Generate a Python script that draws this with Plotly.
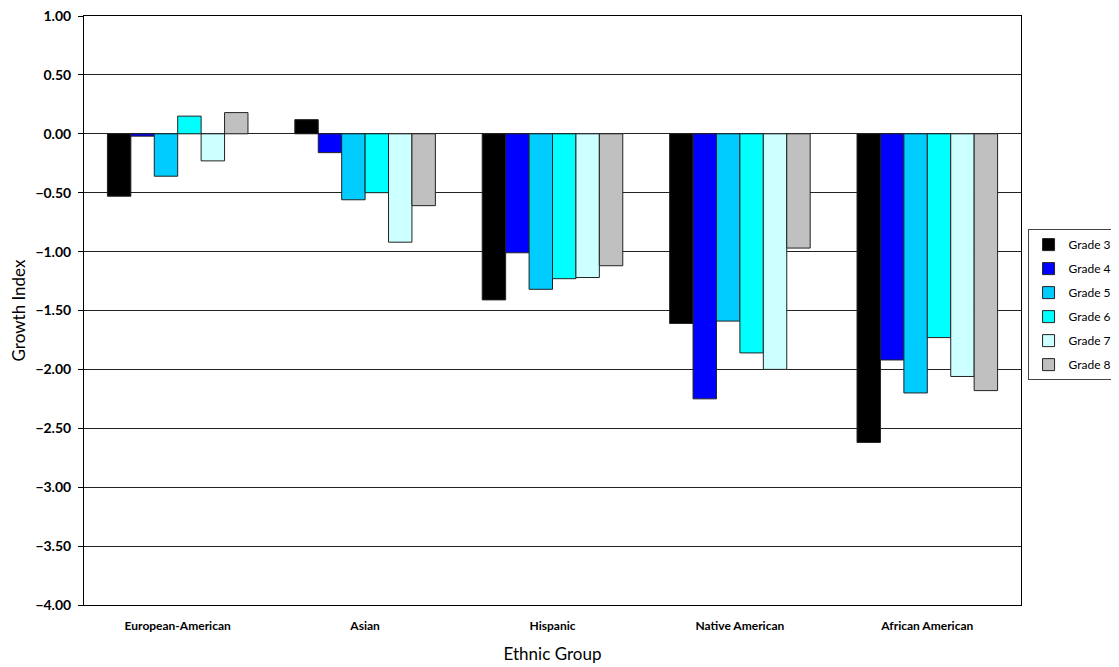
import plotly.graph_objects as go

# Growth index by ethnic group and grade
groups = ["European-American", "Asian", "Hispanic", "Native American", "African American"]
grades = ["Grade 3", "Grade 4", "Grade 5", "Grade 6", "Grade 7", "Grade 8"]

grade3 = [-0.53, 0.12, -1.41, -1.61, -2.62]
grade4 = [-0.02, -0.16, -1.01, -2.25, -1.92]
grade5 = [-0.36, -0.56, -1.32, -1.59, -2.20]
grade6 = [0.15, -0.50, -1.23, -1.86, -1.73]
grade7 = [-0.23, -0.92, -1.22, -2.00, -2.06]
grade8 = [0.18, -0.61, -1.12, -0.97, -2.18]

colors = ["#000000", "#0000FF", "#00CCFF", "#00FFFF", "#CCFFFF", "#C0C0C0"]
tick_vals = [1.0, 0.5, 0.0, -0.5, -1.0, -1.5, -2.0, -2.5, -3.0, -3.5, -4.0]

FONT = "Century Gothic, Futura, Lato, DejaVu Sans, sans-serif"

fig = go.Figure()
for name, vals, col in zip(grades, [grade3, grade4, grade5, grade6, grade7, grade8], colors):
    fig.add_trace(go.Bar(
        x=groups, y=vals, name=name, legendgroup=name,
        marker=dict(color=col, line=dict(color="#222222", width=1)),
    ))

# page body adds ~8px offset, so margins are shifted to compensate
# (top kept a little larger so the "1.00" label isn't clipped)
fig.update_layout(
    width=1119, height=667,
    margin=dict(l=76, r=106, t=8, b=70, autoexpand=False),
    paper_bgcolor="white", plot_bgcolor="white",
    barmode="group", bargap=0.25, bargroupgap=0,
    font=dict(family=FONT, color="black"),
    legend=dict(
        x=1.007, xanchor="left", y=0.51, yanchor="middle",
        bordercolor="#444444", borderwidth=1,
        font=dict(size=12, family=FONT),
        traceorder="grouped", tracegroupgap=5, itemwidth=30,
    ),
    showlegend=True,
)
fig.update_xaxes(
    automargin=False,
    showline=True, mirror=True, linecolor="black", linewidth=1,
    ticklabelstandoff=10,
    tickfont=dict(size=12, family=FONT, weight="bold"),
    title=dict(text="Ethnic Group", font=dict(size=17, family=FONT), standoff=15),
)
fig.update_yaxes(
    automargin=False, ticklabeloverflow="allow",
    range=[-4.0, 1.0], tickvals=tick_vals, tickformat=".2f",
    showline=True, mirror=True, linecolor="black", linewidth=1,
    ticks="outside", ticklen=5, tickcolor="black", ticklabelstandoff=4,
    showgrid=True, gridcolor="#222222", gridwidth=1,
    zeroline=True, zerolinecolor="#222222", zerolinewidth=1,
    tickfont=dict(size=14, family=FONT, weight="bold"),
    title=dict(text="Growth Index", font=dict(size=17, family=FONT), standoff=8),
)

fig.write_html("out.html")
